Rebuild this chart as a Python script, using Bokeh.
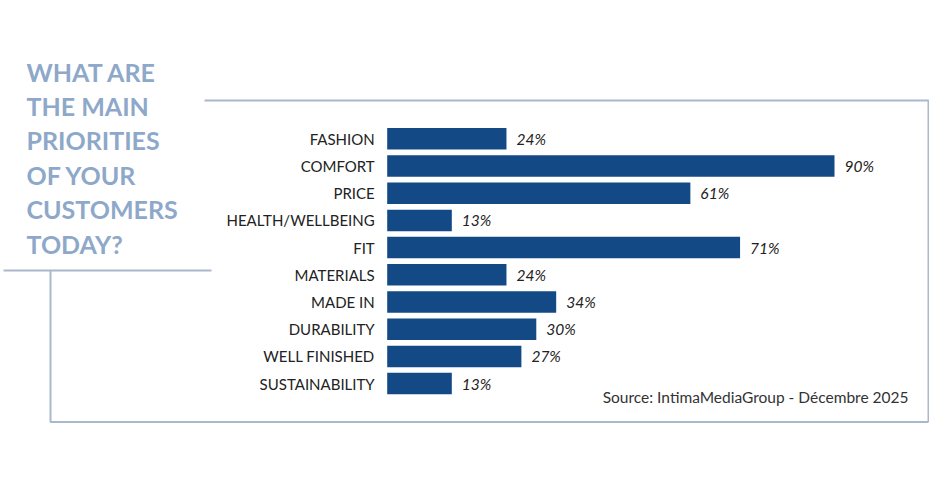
from bokeh.plotting import figure
from bokeh.models import Range1d
from bokeh.embed import file_html
from bokeh.resources import INLINE
from bokeh.core.properties import value

# ---- data ----
categories = ["FASHION", "COMFORT", "PRICE", "HEALTH/WELLBEING", "FIT",
              "MATERIALS", "MADE IN", "DURABILITY", "WELL FINISHED", "SUSTAINABILITY"]
percentages = [24, 90, 61, 13, 71, 24, 34, 30, 27, 13]
value_labels = [f"{v}%" for v in percentages]
title_lines = ["WHAT ARE", "THE MAIN", "PRIORITIES", "OF YOUR", "CUSTOMERS", "TODAY?"]
source_text = "Source: IntimaMediaGroup - Décembre 2025"

# ---- layout constants (pixels) ----
W, H = 929, 464
X0, SX = 386.7, 4.97       # pixel of value 0, pixels per percent
Y0, SY = 138.3, 27.2       # pixel of first row centre, pixels per row

def dx(px):   # page pixel -> data x
    return (px - X0) / SX

def dy(py):   # page pixel -> data y
    return (py - Y0) / SY

x_range = Range1d(-X0 / SX, (W - X0) / SX)
y_range = Range1d((H - Y0) / SY, -Y0 / SY)

p = figure(width=W, height=H, x_range=x_range, y_range=y_range,
           output_backend="svg", toolbar_location=None,
           x_axis_type=None, y_axis_type=None, min_border=0)
p.outline_line_color = None
p.xgrid.visible = False
p.ygrid.visible = False
p.background_fill_color = "white"
p.border_fill_color = "white"

FRAME = "#a9b8cb"
BAR = "#134a86"
TITLE = "#8ea8c9"

# frame decoration
p.line([dx(204), dx(928), dx(928)], [dy(100), dy(100), dy(421.5)], line_color=FRAME, line_width=2)
p.line([dx(50), dx(50), dx(928)], [dy(270), dy(421.5), dy(421.5)], line_color=FRAME, line_width=2)
p.line([dx(3), dx(211)], [dy(270), dy(270)], line_color=FRAME, line_width=2)

rows = list(range(len(categories)))

p.hbar(y=rows, left=0, right=percentages, height=0.79, fill_color=BAR, line_color=None)

p.text(x=[0] * len(rows), y=rows, text=categories, x_offset=-12.5,
       text_align="right", text_baseline="middle",
       text_font=value("Lato"), text_font_size="15px", text_color="#222222")

p.text(x=percentages, y=rows, text=value_labels, x_offset=10,
       text_align="left", text_baseline="middle",
       text_font=value("Lato"), text_font_style="italic",
       text_font_size="15.5px", text_color="#222222")

# title block (line centres)
centres = [71, 105.3, 139.8, 174.2, 208.7, 243.2]
p.text(x=[dx(26)] * len(title_lines), y=[dy(c) for c in centres], text=title_lines,
       text_align="left", text_baseline="middle",
       text_font=value("Lato"), text_font_style="bold",
       text_font_size="25px", text_color=TITLE)

p.text(x=[dx(908)], y=[dy(396)], text=[source_text],
       text_align="right", text_baseline="middle",
       text_font=value("Lato"), text_font_size="15.5px", text_color="#333333")

open("out.html", "w").write(file_html(p, INLINE))
